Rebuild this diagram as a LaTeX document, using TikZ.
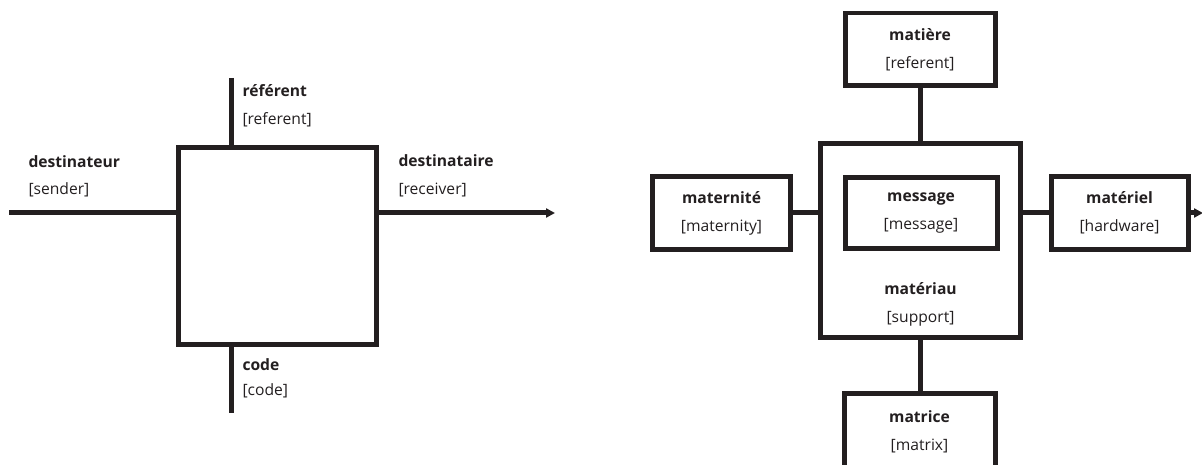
\documentclass[tikz,border=0pt]{standalone}
\usepackage{fontspec}
\setmainfont{Open Sans}
\usetikzlibrary{arrows.meta}
\definecolor{ink}{RGB}{35,31,32}

\begin{document}
\begin{tikzpicture}[x=0.02cm,y=-0.02cm,
  line width=0.1cm, color=ink,
  font=\fontsize{8.9}{16}\selectfont,
  box/.style={draw, rectangle, outer sep=0pt, inner sep=0pt, align=center},
  tag/.style={anchor=base west, inner sep=0pt},
  flow/.style={-{Triangle[length=0.18cm,width=0.18cm]}}]
\useasboundingbox (0,0) rectangle (1202,465);

% Left scheme
\node[box, minimum width=3.98cm, minimum height=3.96cm] (channel) at (277.5,246) {};
\coordinate (senderstart) at (9,213);
\coordinate (receiverend) at (555,213);
\coordinate (referenttop) at (231,78);
\coordinate (codebottom) at (231,413);
\draw (senderstart) -- (senderstart -| channel.west);
\draw[flow] (channel.east |- receiverend) -- (receiverend);
\draw (referenttop) -- (referenttop |- channel.north);
\draw (channel.south -| codebottom) -- (codebottom);

% Left labels
\node[tag] (sendertitle) at (26,168) {\textbf{destinateur}};
\node[tag] (sendergloss) at (26,195) {[sender]};
\node[tag] (referenttitle) at (240,97) {\textbf{référent}};
\node[tag] (referentgloss) at (240,125) {[referent]};
\node[tag] (receivertitle) at (396,167) {\textbf{destinataire}};
\node[tag] (receivergloss) at (396,195) {[receiver]};
\node[tag] (codetitle) at (240,371) {\textbf{code}};
\node[tag] (codegloss) at (240,396) {[code]};

% Right scheme
\node[box, minimum width=4.02cm, minimum height=3.9cm] (support) at (920.5,240.5) {};
\node[box, minimum width=3.04cm, minimum height=1.44cm] (message) at (921,213)
  {\textbf{message}\\{}[message]};
\node[align=center, inner sep=0pt] (supportlabel) at (920.5,304.5)
  {\textbf{matériau}\\{}[support]};
\node[box, minimum width=3cm, minimum height=1.46cm] (matter) at (920,49.5)
  {\textbf{matière}\\{}[referent]};
\node[box, minimum width=2.76cm, minimum height=1.46cm] (maternity) at (721.5,213)
  {\textbf{maternité}\\{}[maternity]};
\node[box, minimum width=2.74cm, minimum height=1.48cm] (hardware) at (1119.5,213)
  {\textbf{matériel}\\{}[hardware]};
\node[box, minimum width=3.02cm, minimum height=1.56cm] (matrix) at (919.5,432)
  {\textbf{matrice}\\{}[matrix]};
\coordinate (hardwareout) at (1203,213);

% Connectors
\draw (matter.south) -- (matter.south |- support.north);
\draw (maternity.east) -- (maternity.east -| support.west);
\draw (hardware.west -| support.east) -- (hardware.west);
\draw (support.south) -- (support.south |- matrix.north);
\draw[flow] (hardware.east) -- (hardwareout);
\end{tikzpicture}
\end{document}
